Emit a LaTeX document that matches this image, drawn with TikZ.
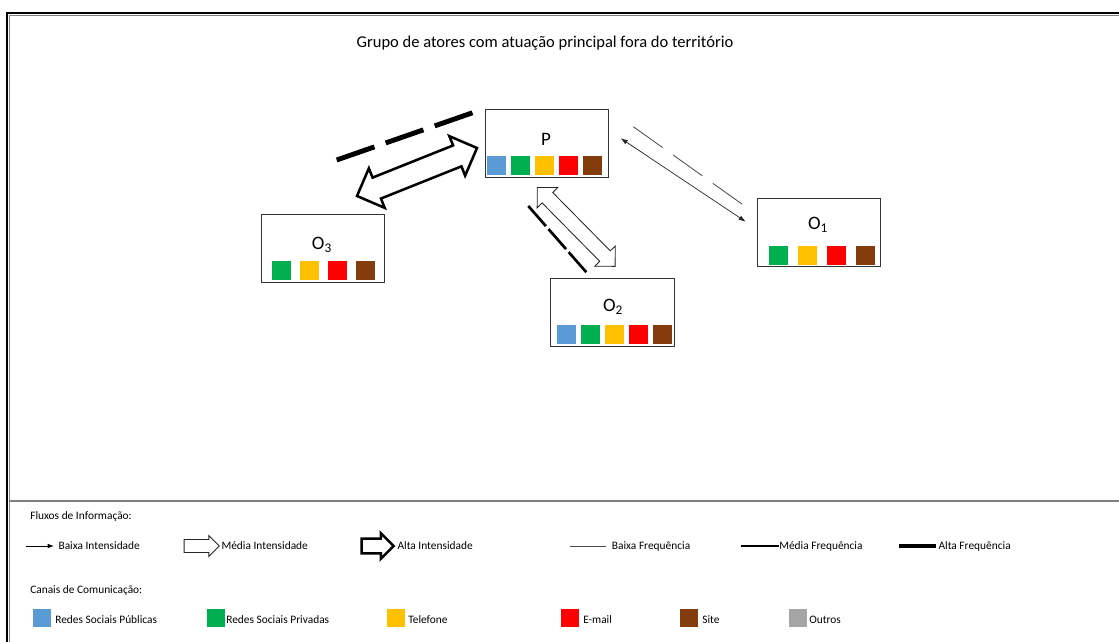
\documentclass[tikz,border=0pt]{standalone}
\usepackage{fontspec}
\setmainfont{Carlito}
\usetikzlibrary{shapes.arrows, arrows.meta}

\definecolor{cblue}{HTML}{5B9BD5}
\definecolor{cgreen}{HTML}{00B050}
\definecolor{cyellow}{HTML}{FFC000}
\definecolor{cred}{HTML}{FF0000}
\definecolor{cbrown}{HTML}{843C0C}
\definecolor{cgray}{HTML}{A5A5A5}

\begin{document}
\begin{tikzpicture}[
    x=0.025cm, y=-0.025cm,
    actor/.style={draw=black!80, line width=0.6pt, minimum width=3.08cm, minimum height=1.7cm, inner sep=0},
    actorlabel/.style={anchor=base, inner sep=0, font=\fontsize{13.5}{16}\selectfont},
    chan/.style={fill=#1, minimum size=0.4625cm, inner sep=0, anchor=north west},
    keysq/.style={fill=#1, minimum size=0.45cm, inner sep=0},
    legtext/.style={anchor=west, inner sep=0, font=\fontsize{8.1}{9.7}\selectfont},
    midflow/.style={draw=black!85, line width=0.6pt, fill=white, inner xsep=0pt},
    hiflow/.style={draw=black, line width=1.8pt, fill=white, inner xsep=0pt},
    lowflow/.style={{Latex[length=5pt,width=3.5pt]}-{Latex[length=5pt,width=3.5pt]}, line width=0.5pt, draw=black!85},
    lowfreq/.style={line width=0.6pt, draw=black!70},
    midfreq/.style={line width=1.9pt},
    hifreq/.style={line width=3.5pt}
]
    \clip (0,0) rectangle (1119,642);

    % frame and separator
    \draw[line width=1.4pt] (7,12.7) rectangle (1140,660);
    \draw[black!50, line width=0.8pt] (9.8,15.2) rectangle (1135,655);
    \draw[black!50, line width=1.4pt] (9.8,501) -- (1135,501);

    \node[anchor=base, inner sep=0, font=\fontsize{11.75}{14}\selectfont] (title) at (545,47.5)
        {Grupo de atores com atuação principal fora do território};

    % actors
    \node[actor] (P)  at (547,143)   {};
    \node[actor] (O3) at (323,248)   {};
    \node[actor] (O2) at (612.5,312) {};
    \node[actor] (O1) at (819,232.5) {};

    \node[actorlabel] (Plab)  at (546,145.5) {P};
    \node[actorlabel] (O3lab) at (322,249.3) {O\textsubscript{3}};
    \node[actorlabel] (O2lab) at (613,311.7) {O\textsubscript{2}};
    \node[actorlabel] (O1lab) at (818,229.3) {O\textsubscript{1}};

    \foreach \c [count=\i from 0] in {cblue,cgreen,cyellow,cred,cbrown}
        \node[chan=\c] (p\i) at (487+24*\i,156) {};
    \foreach \c [count=\i from 0] in {cgreen,cyellow,cred,cbrown}
        \node[chan=\c] (o3\i) at (272+28*\i,261) {};
    \foreach \c [count=\i from 0] in {cblue,cgreen,cyellow,cred,cbrown}
        \node[chan=\c] (o2\i) at (557+24*\i,325) {};
    \foreach \c [count=\i from 0] in {cgreen,cyellow,cred,cbrown}
        \node[chan=\c] (o1\i) at (769+29*\i,246) {};

    % flows P -- O3
    \node[hiflow, double arrow, inner ysep=0.25cm, double arrow head extend=0.25cm,
          minimum height=3.23cm, rotate=21.8] (flowPO3) at (417,172) {};
    \coordinate (fo3a) at (336.7,160);
    \coordinate (fo3b) at (472.7,112.7);
    \draw[hifreq, dash pattern=on 28.4pt off 8.5pt] (fo3a) -- (fo3b);

    % flows P -- O2
    \node[midflow, double arrow, inner ysep=0.175cm, double arrow head extend=0.175cm,
          minimum height=2.77cm, rotate=-45.4] (flowPO2) at (576.2,226.9) {};
    \coordinate (fo2a) at (528.3,206);
    \coordinate (fo2b) at (586.7,272.7);
    \draw[midfreq, dash pattern=on 19pt off 2.8pt] (fo2a) -- (fo2b);

    % flows P -- O1
    \coordinate (fo1a) at (620.7,138.3);
    \coordinate (fo1b) at (745.7,221.7);
    \draw[lowflow] (fo1a) -- (fo1b);
    \coordinate (fo1c) at (633.3,126.7);
    \coordinate (fo1d) at (743.3,205);
    \draw[lowfreq, dash pattern=on 25.5pt off 9.2pt] (fo1c) -- (fo1d);

    % legend: flows
    \node[legtext] (fluxos) at (30,517) {Fluxos de Informação:};

    \coordinate (klowA) at (26,546);
    \coordinate (klowB) at (54,546);
    \draw[-{Latex[length=4.5pt,width=3.2pt]}, line width=0.5pt] (klowA) -- (klowB);
    \node[legtext] (tbaixaint) at (58.3,546) {Baixa Intensidade};

    \node[midflow, single arrow, inner ysep=0.15cm, single arrow head extend=0.1cm,
          minimum height=0.88cm] (kmid) at (198.5,546) {};
    \node[legtext] (tmediaint) at (221.3,546) {Média Intensidade};

    \node[hiflow, single arrow, inner ysep=0.15cm, single arrow head extend=0.14cm,
          minimum height=0.8cm] (khi) at (374,546) {};
    \node[legtext] (taltaint) at (397.3,546) {Alta Intensidade};

    \coordinate (kfa) at (570,546);
    \coordinate (kfb) at (606,546);
    \draw[lowfreq] (kfa) -- (kfb);
    \node[legtext] (tbaixafr) at (611.7,546) {Baixa Frequência};

    \coordinate (kfc) at (741,546);
    \coordinate (kfd) at (779,546);
    \draw[line width=1.4pt] (kfc) -- (kfd);
    \node[legtext] (tmediafr) at (779,546) {Média Frequência};

    \coordinate (kfe) at (899,546);
    \coordinate (kff) at (936,546);
    \draw[line width=2.6pt] (kfe) -- (kff);
    \node[legtext] (taltafr) at (938.3,546) {Alta Frequência};

    % legend: channels
    \node[legtext] (canais) at (30,591) {Canais de Comunicação:};

    \node[keysq=cblue]   (kblue)   at (42,618)    {};
    \node[legtext] (tblue)   at (55,620)  {Redes Sociais Públicas};
    \node[keysq=cgreen]  (kgreen)  at (216,618)   {};
    \node[legtext] (tgreen)  at (226,620) {Redes Sociais Privadas};
    \node[keysq=cyellow] (kyellow) at (395.5,618) {};
    \node[legtext] (tyellow) at (408,620) {Telefone};
    \node[keysq=cred]    (kred)    at (570,618)   {};
    \node[legtext] (tred)    at (583,620) {E-mail};
    \node[keysq=cbrown]  (kbrown)  at (688.7,618) {};
    \node[legtext] (tbrown)  at (702,620) {Site};
    \node[keysq=cgray]   (kgray)   at (798,618)   {};
    \node[legtext] (tgray)   at (809,620) {Outros};
\end{tikzpicture}
\end{document}
